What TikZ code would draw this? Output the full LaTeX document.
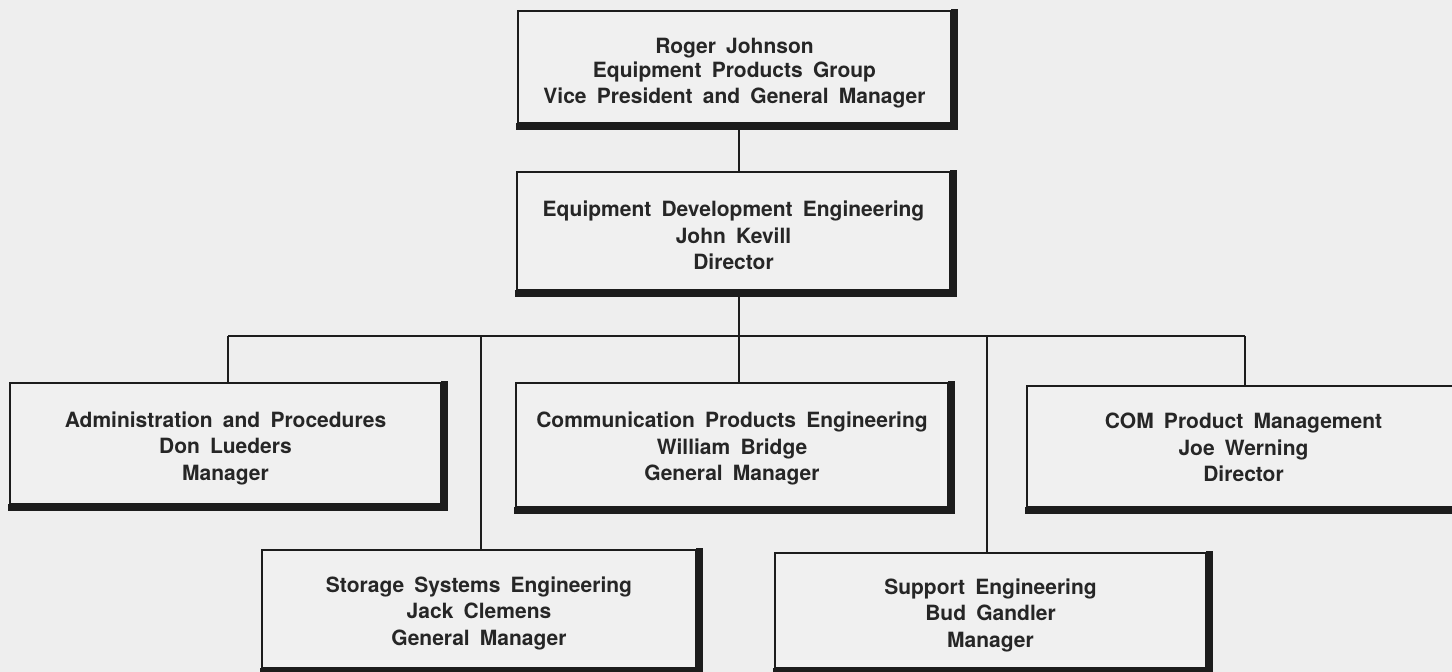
\documentclass[tikz,border=0pt]{standalone}
\usepackage{fontspec}
\setmainfont{TeX Gyre Heros}[WordSpace=1.75]
\definecolor{bgc}{HTML}{EEEEEE}
\definecolor{boxc}{HTML}{F0F0F0}
\definecolor{linec}{HTML}{1C1C1C}
\definecolor{textc}{HTML}{262626}
\tikzset{
  orgbox/.style={draw=linec, line width=1.6pt, fill=boxc, rectangle, inner sep=0pt},
  orgtext/.style={inner sep=0pt, align=center, text=textc,
    font=\fontsize{21}{26.5}\selectfont\bfseries},
  conn/.style={draw=linec, line width=1.8pt}
}
\newcommand\boxshadow[1]{%
  \fill[linec] ([xshift=-0.8pt,yshift=0.8pt]#1.north east) rectangle ([xshift=6pt,yshift=-6pt]#1.south east);
  \fill[linec] ([xshift=-0.8pt,yshift=0.8pt]#1.south west) rectangle ([xshift=6pt,yshift=-6pt]#1.south east);
}
\begin{document}
\begin{tikzpicture}[x=1pt,y=-1pt]
\useasboundingbox (0,0) rectangle (1452,672);
\clip (0,0) rectangle (1452,672);
\fill[bgc] (0,0) rectangle (1452,672);

\coordinate (bus) at (739,336);
\coordinate (d1) at (228,336);
\coordinate (d2) at (481,336);
\coordinate (d3) at (739,336);
\coordinate (d4) at (987,336);
\coordinate (d5) at (1245,336);

% boxes
\node[orgbox, minimum width=433pt, minimum height=112pt] (rj)  at (734.5,67) {};
\node[orgbox, minimum width=433pt, minimum height=118pt] (ede) at (733.5,231) {};
\node[orgbox, minimum width=431pt, minimum height=121pt] (adm) at (225.5,443.5) {};
\node[orgbox, minimum width=432pt, minimum height=124pt] (cpe) at (732,445) {};
\node[orgbox, minimum width=433pt, minimum height=121pt] (com) at (1243.5,446.5) {};
\node[orgbox, minimum width=434pt, minimum height=118pt] (sse) at (479,609) {};
\node[orgbox, minimum width=431pt, minimum height=115pt] (sup) at (990.5,610.5) {};

\foreach \n in {rj,ede,adm,cpe,com,sse,sup} {\boxshadow{\n}}

% texts
\node[orgtext, yshift=-6pt] (rjt) at (rj.center)
  {Roger Johnson\\[-2.5pt] Equipment Products Group\\ Vice President and General Manager\vphantom{g}};
\node[orgtext, yshift=-6.5pt] (edet) at (ede.center)
  {Equipment Development Engineering\\ John Kevill\\ Director\vphantom{g}};
\node[orgtext, yshift=-4.5pt] (admt) at (adm.center)
  {Administration and Procedures\\ Don Lueders\\ Manager\vphantom{g}};
\node[orgtext, yshift=-3.5pt] (cpet) at (cpe.center)
  {Communication Products Engineering\\ William Bridge\\ General Manager\vphantom{g}};
\node[orgtext, yshift=-3.5pt] (comt) at (com.center)
  {COM Product Management\\ Joe Werning\\ Director\vphantom{g}};
\node[orgtext, yshift=-4pt] (sset) at (sse.center)
  {Storage Systems Engineering\\ Jack Clemens\\ General Manager\vphantom{g}};
\node[orgtext, yshift=-4.5pt] (supt) at (sup.center)
  {Support Engineering\\ Bud Gandler\\ Manager\vphantom{g}};

% connectors
\draw[conn] (rj.south -| d3) -- (ede.north -| d3);
\draw[conn] (ede.south -| d3) -- (bus);
\draw[conn] (d1) -- (d5);
\draw[conn] (d1) -- (d1 |- adm.north);
\draw[conn] (d2) -- (d2 |- sse.north);
\draw[conn] (d3) -- (d3 |- cpe.north);
\draw[conn] (d4) -- (d4 |- sup.north);
\draw[conn] (d5) -- (d5 |- com.north);
\end{tikzpicture}
\end{document}
